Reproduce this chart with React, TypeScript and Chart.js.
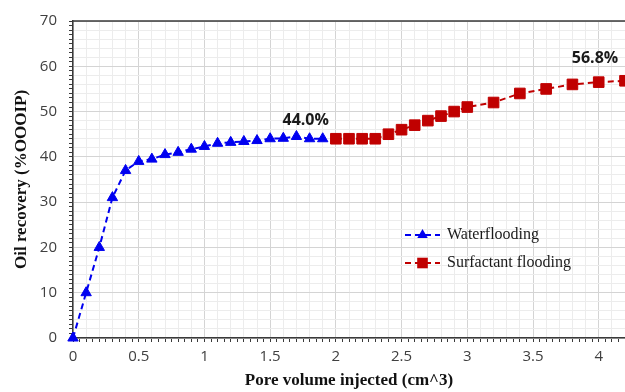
import React, { useEffect, useRef } from 'react';
import { Chart, registerables } from 'chart.js';

Chart.register(...registerables);

// ---- data ----
const waterPV = [0, 0.1, 0.2, 0.3, 0.4, 0.5, 0.6, 0.7, 0.8, 0.9, 1.0, 1.1, 1.2, 1.3, 1.4, 1.5, 1.6, 1.7, 1.8, 1.9];
const waterRecovery = [0, 10, 20, 31, 37, 39, 39.5, 40.5, 41, 41.7, 42.3, 43, 43.2, 43.4, 43.6, 44, 44.1, 44.5, 44, 44];
const surfPV = [2.0, 2.1, 2.2, 2.3, 2.4, 2.5, 2.6, 2.7, 2.8, 2.9, 3.0, 3.2, 3.4, 3.6, 3.8, 4.0, 4.2];
const surfRecovery = [44, 44, 44, 44, 45, 46, 47, 48, 49, 50, 51, 52, 54, 55, 56, 56.5, 56.8];
const seriesNames = ['Waterflooding', 'Surfactant flooding'];
const xTitle = 'Pore volume injected (cm^3)';
const yTitle = 'Oil recovery (%OOOIP)';

const BLUE = '#0000f0';
const RED = '#c00000';
const MAJOR = '#d4d4d4';
const MINOR = '#ececec';
const AXIS = '#3a3a3a';

const near = (v: number, step: number) => Math.abs(v / step - Math.round(v / step)) < 1e-6;

const topBorder = {
  id: 'topBorder',
  afterDraw(chart: any) {
    const { ctx, chartArea } = chart;
    ctx.save();
    ctx.strokeStyle = AXIS;
    ctx.lineWidth = 1.5;
    ctx.beginPath();
    ctx.moveTo(chartArea.left, chartArea.top);
    ctx.lineTo(chartArea.right, chartArea.top);
    ctx.stroke();
    ctx.restore();
  },
};

const endLabels = {
  id: 'endLabels',
  afterDatasetsDraw(chart: any) {
    const { ctx } = chart;
    const offsets = [
      { dx: -17, dy: -18 },
      { dx: -30, dy: -22 },
    ];
    ctx.save();
    ctx.font = 'bold 16px "Open Sans"';
    ctx.fillStyle = '#1a1a1a';
    ctx.textAlign = 'center';
    ctx.textBaseline = 'middle';
    chart.data.datasets.forEach((ds: any, i: number) => {
      const meta = chart.getDatasetMeta(i);
      const last = meta.data[meta.data.length - 1];
      const val = ds.data[ds.data.length - 1].y;
      ctx.fillText(val.toFixed(1) + '%', last.x + offsets[i].dx, last.y + offsets[i].dy);
    });
    ctx.restore();
  },
};

const customLegend = {
  id: 'customLegend',
  afterDatasetsDraw(chart: any) {
    const { ctx } = chart;
    const x0 = 405;
    const lineLen = 35;
    const rows = [235, 263];
    ctx.save();
    chart.data.datasets.forEach((ds: any, i: number) => {
      const y = rows[i];
      ctx.strokeStyle = ds.borderColor;
      ctx.lineWidth = ds.borderWidth;
      ctx.setLineDash(ds.borderDash);
      ctx.beginPath();
      ctx.moveTo(x0, y);
      ctx.lineTo(x0 + lineLen, y);
      ctx.stroke();
      ctx.setLineDash([]);
      ctx.fillStyle = ds.pointBackgroundColor;
      const cx = x0 + lineLen / 2;
      if (ds.pointStyle === 'triangle') {
        const r = ds.pointRadius;
        const edge = (3 * r) / Math.sqrt(3);
        const h = (edge * Math.sqrt(3)) / 2;
        ctx.beginPath();
        ctx.moveTo(cx, y - (2 * h) / 3);
        ctx.lineTo(cx + edge / 2, y + h / 3);
        ctx.lineTo(cx - edge / 2, y + h / 3);
        ctx.closePath();
        ctx.fill();
      } else {
        const s = ds.pointRadius * Math.SQRT2;
        ctx.fillRect(cx - s / 2, y - s / 2, s, s);
      }
      ctx.fillStyle = '#1a1a1a';
      ctx.font = '16px "Liberation Serif"';
      ctx.textAlign = 'left';
      ctx.textBaseline = 'middle';
      ctx.fillText(ds.label, x0 + lineLen + 7, y);
    });
    ctx.restore();
  },
};

export default function App() {
  const ref = useRef<HTMLCanvasElement | null>(null);

  useEffect(() => {
    if (!ref.current) return;
    const chart = new Chart(ref.current, {
      type: 'line',
      data: {
        datasets: [
          {
            label: seriesNames[0],
            data: waterPV.map((x, i) => ({ x, y: waterRecovery[i] })),
            borderColor: BLUE,
            backgroundColor: BLUE,
            borderWidth: 2,
            borderDash: [6, 4],
            pointStyle: 'triangle',
            pointRadius: 6,
            pointBackgroundColor: BLUE,
            pointBorderColor: BLUE,
            pointBorderWidth: 1,
            fill: false,
            tension: 0,
            clip: false,
          },
          {
            label: seriesNames[1],
            data: surfPV.map((x, i) => ({ x, y: surfRecovery[i] })),
            borderColor: RED,
            backgroundColor: RED,
            borderWidth: 2,
            borderDash: [6, 4],
            pointStyle: 'rect',
            pointRadius: 7.5,
            pointBackgroundColor: RED,
            pointBorderColor: RED,
            pointBorderWidth: 1,
            fill: false,
            tension: 0,
            clip: false,
          },
        ],
      },
      options: {
        responsive: false,
        animation: false,
        layout: { autoPadding: false, padding: { top: 20, right: 0, left: 0, bottom: 0 } },
        plugins: {
          legend: { display: false },
          tooltip: { enabled: false },
        },
        scales: {
          x: {
            type: 'linear',
            min: 0,
            max: 4.2,
            afterFit: (s: any) => {
              s.height = 54;
              s.paddingRight = 0;
            },
            ticks: {
              stepSize: 0.05,
              autoSkip: false,
              maxRotation: 0,
              padding: 6,
              font: { family: '"Open Sans"', size: 15 },
              color: '#404040',
              callback: (v: any) => (near(Number(v), 0.5) ? String(Math.round(Number(v) * 10) / 10) : ''),
            },
            grid: {
              color: (c: any) => (near(c.tick.value, 0.5) ? MAJOR : near(c.tick.value, 0.1) ? MINOR : 'rgba(0,0,0,0)'),
              tickColor: AXIS,
              tickLength: 4,
              drawTicks: true,
            },
            border: { color: AXIS, width: 1.5 },
            title: {
              display: true,
              text: xTitle,
              font: { family: '"Liberation Serif"', size: 17, weight: 'bold' },
              color: '#111',
              padding: { top: 0, bottom: 1 },
            },
          },
          y: {
            type: 'linear',
            min: 0,
            max: 70,
            afterFit: (s: any) => {
              s.width = 73;
            },
            ticks: {
              stepSize: 1,
              autoSkip: false,
              padding: 12,
              font: { family: '"Open Sans"', size: 15 },
              color: '#404040',
              callback: (v: any) => (near(Number(v), 10) ? String(v) : ''),
            },
            grid: {
              color: (c: any) => (near(c.tick.value, 10) ? MAJOR : near(c.tick.value, 2) ? MINOR : 'rgba(0,0,0,0)'),
              tickColor: AXIS,
              tickLength: 4,
              drawTicks: true,
            },
            border: { color: AXIS, width: 1.5 },
            title: {
              display: true,
              text: yTitle,
              font: { family: '"Liberation Serif"', size: 17, weight: 'bold' },
              color: '#111',
              padding: { top: 11, bottom: 0 },
            },
          },
        },
      },
      plugins: [topBorder, customLegend, endLabels],
    } as any);
    return () => chart.destroy();
  }, []);

  return (
    <div style={{ position: 'fixed', left: 0, top: 0, width: 625, height: 392, background: '#fff' }}>
      <canvas ref={ref} width={625} height={392} />
    </div>
  );
}
